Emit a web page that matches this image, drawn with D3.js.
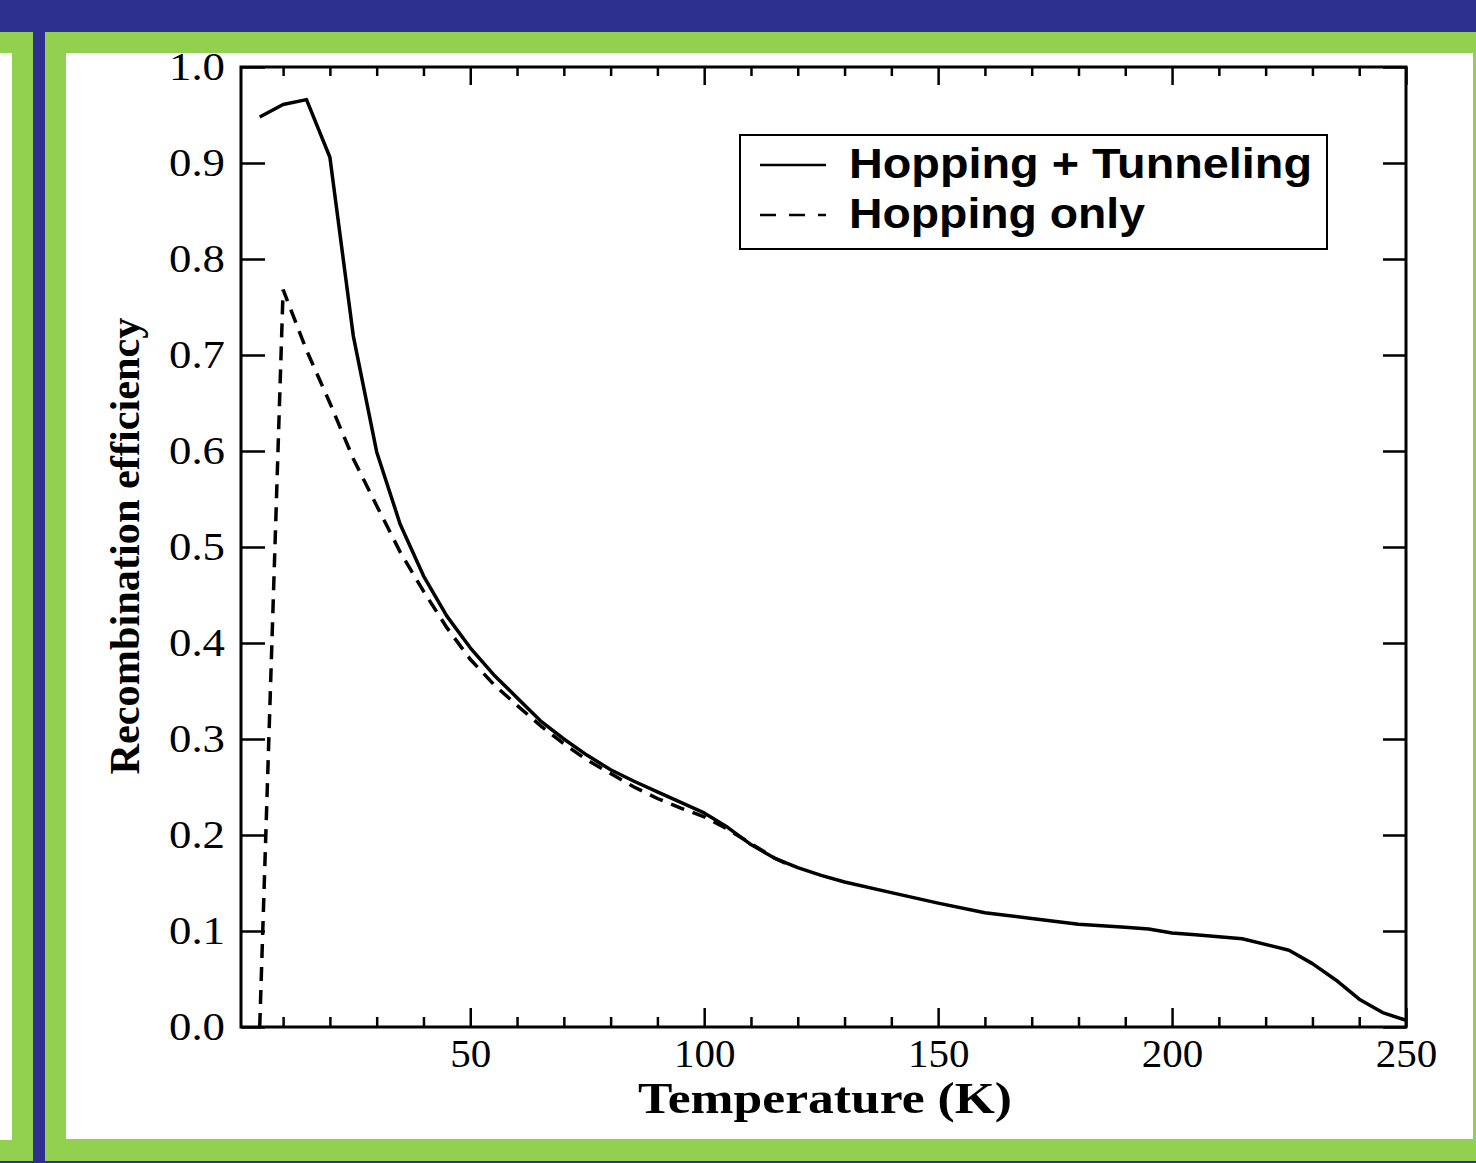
<!DOCTYPE html>
<html>
<head>
<meta charset="utf-8">
<script src="https://cdn.jsdelivr.net/npm/d3@7"></script>
<style>
    body { margin: 0; background: #fff; }
</style>
</head>
<body>
<div id="chart"></div>
<script>
// data
var tempsHT = [5, 10, 15, 20, 25, 30, 35, 40, 45, 50, 55, 60, 65, 70, 75, 80, 85, 90, 95, 100,
    105, 110, 115, 120, 125, 130, 140, 150, 160, 170, 180, 190, 195, 200, 205, 210, 215, 225,
    230, 235, 240, 245, 250]
var effHT = [0.948, 0.961, 0.966, 0.906, 0.72, 0.599, 0.524, 0.470, 0.428, 0.395, 0.367, 0.343,
    0.319, 0.300, 0.283, 0.268, 0.256, 0.245, 0.234, 0.223, 0.208, 0.190, 0.176, 0.166, 0.158,
    0.151, 0.140, 0.129, 0.119, 0.113, 0.107, 0.104, 0.102, 0.098, 0.096, 0.094, 0.092, 0.080,
    0.066, 0.049, 0.029, 0.015, 0.007]

var tempsH = [5, 10, 15, 20, 25, 30, 35, 40, 45, 50, 55, 60, 65, 70, 75, 80, 85, 90, 95, 100,
    105, 110, 115, 118]
var effH = [0.0, 0.768, 0.705, 0.650, 0.592, 0.543, 0.495, 0.454, 0.416, 0.383, 0.357, 0.335,
    0.314, 0.295, 0.278, 0.264, 0.250, 0.238, 0.228, 0.219, 0.206, 0.191, 0.176, 0.169]

var seriesNames = ["Hopping + Tunneling", "Hopping only"]
var xMajor = [50, 100, 150, 200, 250]
var xMinor = [10, 20, 30, 40, 60, 70, 80, 90, 110, 120, 130, 140, 160, 170, 180, 190, 210, 220, 230, 240]
var yTicks = [0, 0.1, 0.2, 0.3, 0.4, 0.5, 0.6, 0.7, 0.8, 0.9, 1.0]
var xTitle = "Temperature (K)"
var yTitle = "Recombination efficiency"

var W = 1476, H = 1163
var blue = "#2e3090", green = "#92d050"

var svg = d3.select('#chart').append('svg')
    .attr('width', W)
    .attr('height', H)

// slide frame
svg.append('rect').attr('width', W).attr('height', H).attr('fill', '#fff')
svg.append('rect').attr('x', 0).attr('y', 32).attr('width', W).attr('height', 1129).attr('fill', green)
svg.append('rect').attr('x', 0).attr('y', 53).attr('width', 12).attr('height', 1087).attr('fill', '#fff')
svg.append('rect').attr('x', 66).attr('y', 53).attr('width', 1407).attr('height', 1086).attr('fill', '#fff')
svg.append('rect').attr('x', 0).attr('y', 0).attr('width', W).attr('height', 32).attr('fill', blue)
svg.append('rect').attr('x', 33).attr('y', 0).attr('width', 12).attr('height', H).attr('fill', blue)
svg.append('rect').attr('x', 0).attr('y', 1161).attr('width', W).attr('height', 2).attr('fill', blue)
// leftover glyph of the neighbouring slide
svg.append('text').attr('x', -16).attr('y', 1094)
    .attr('font-family', 'Liberation Serif').attr('font-size', 28).attr('fill', '#3a3020')
    .text('0')

// scales
var x = d3.scaleLinear().domain([1, 250]).range([241, 1406])
var y = d3.scaleLinear().domain([0, 1]).range([1027, 67])

var g = svg.append('g')

// ticks
function styleAxis(sel) {
    sel.select('.domain').remove()
    sel.selectAll('.tick line').attr('stroke', '#000').attr('stroke-width', 2.5)
}

g.append('g').attr('transform', 'translate(0,1027)')
    .call(d3.axisBottom(x).tickValues(xMinor).tickSize(-10).tickFormat(''))
    .call(styleAxis)
g.append('g').attr('transform', 'translate(0,1027)')
    .call(d3.axisBottom(x).tickValues(xMajor).tickSize(-19).tickPadding(11).tickFormat(d3.format('d')))
    .call(styleAxis)
    .selectAll('text')
        .attr('font-family', 'Liberation Serif')
        .attr('font-size', 41)
        .attr('fill', '#000')

g.append('g').attr('transform', 'translate(0,67)')
    .call(d3.axisTop(x).tickValues(xMinor).tickSize(-9).tickFormat(''))
    .call(styleAxis)
g.append('g').attr('transform', 'translate(0,67)')
    .call(d3.axisTop(x).tickValues(xMajor).tickSize(-18).tickFormat(''))
    .call(styleAxis)

g.append('g').attr('transform', 'translate(241,0)')
    .call(d3.axisLeft(y).tickValues(yTicks).tickSize(-24).tickPadding(16).tickFormat(d3.format('.1f')))
    .call(styleAxis)
    .selectAll('text')
        .attr('font-family', 'Liberation Serif')
        .attr('font-size', 40)
        .attr('fill', '#000')
        .attr('textLength', 56)
        .attr('lengthAdjust', 'spacingAndGlyphs')
g.append('g').attr('transform', 'translate(1406,0)')
    .call(d3.axisRight(y).tickValues(yTicks).tickSize(-23).tickFormat(''))
    .call(styleAxis)

// frame
g.append('rect')
    .attr('x', x(1)).attr('y', y(1))
    .attr('width', x(250) - x(1)).attr('height', y(0) - y(1))
    .attr('fill', 'none').attr('stroke', '#000').attr('stroke-width', 3)

// lines
var line = d3.line().x(d => x(d[0])).y(d => y(d[1]))

g.append('path')
    .datum(d3.zip(tempsHT, effHT))
    .attr('d', line)
    .attr('fill', 'none').attr('stroke', '#000').attr('stroke-width', 3.5)
    .attr('stroke-linejoin', 'round')

g.append('path')
    .datum(d3.zip(tempsH, effH))
    .attr('d', line)
    .attr('fill', 'none').attr('stroke', '#000').attr('stroke-width', 3.5)
    .attr('stroke-dasharray', '14,9')

// axis titles
svg.append('text')
    .attr('x', 825).attr('y', 1113)
    .attr('text-anchor', 'middle')
    .attr('font-family', 'Liberation Serif').attr('font-weight', 'bold').attr('font-size', 45)
    .attr('textLength', 374).attr('lengthAdjust', 'spacingAndGlyphs')
    .text(xTitle)

svg.append('text')
    .attr('transform', 'translate(139,546) rotate(-90)')
    .attr('text-anchor', 'middle')
    .attr('font-family', 'Liberation Serif').attr('font-weight', 'bold').attr('font-size', 43)
    .attr('textLength', 457).attr('lengthAdjust', 'spacingAndGlyphs')
    .text(yTitle)

// legend
var legend = svg.append('g')
legend.append('rect')
    .attr('x', 740).attr('y', 135).attr('width', 587).attr('height', 114)
    .attr('fill', '#fff').attr('stroke', '#000').attr('stroke-width', 2)

var legendDash = [null, '16,13']
var legendLen = [463, 296]
seriesNames.forEach((name, i) => {
    var ly = 165 + i * 50
    legend.append('line')
        .attr('x1', 760).attr('x2', 826).attr('y1', ly).attr('y2', ly)
        .attr('stroke', '#000').attr('stroke-width', 2.5)
        .attr('stroke-dasharray', legendDash[i])
    legend.append('text')
        .attr('x', 849).attr('y', ly + 13)
        .attr('font-family', 'Liberation Sans').attr('font-weight', 'bold').attr('font-size', 43)
        .attr('textLength', legendLen[i]).attr('lengthAdjust', 'spacingAndGlyphs')
        .text(name)
})
</script>
</body>
</html>
